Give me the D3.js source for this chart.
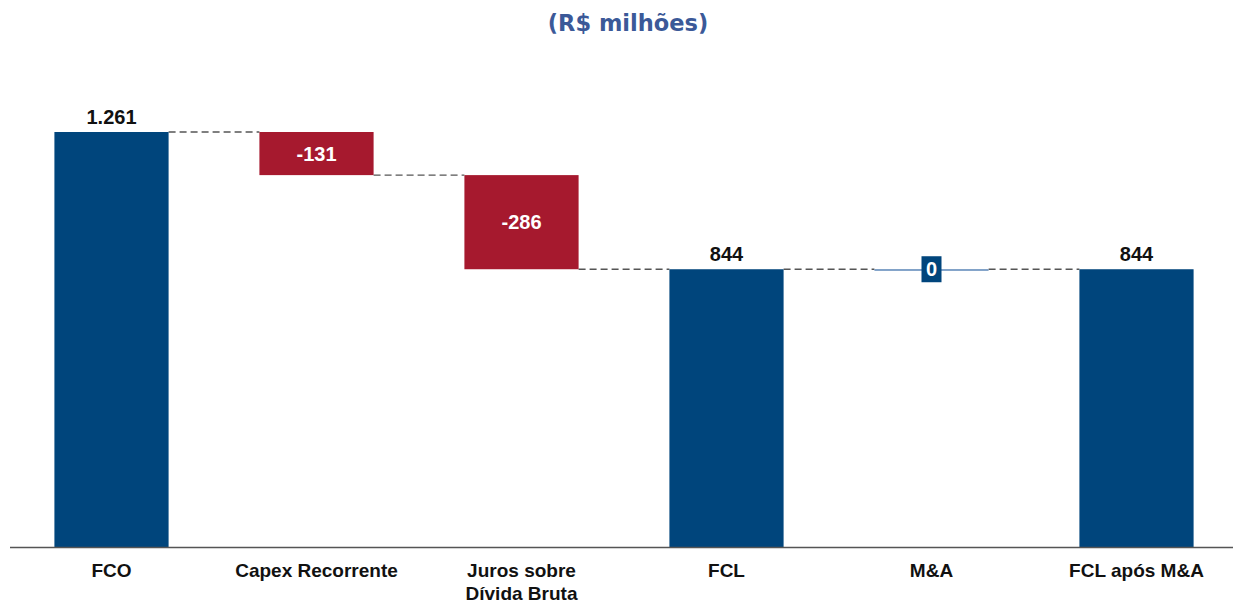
<!DOCTYPE html>
<html>
<head>
<meta charset="utf-8">
<script src="https://cdn.jsdelivr.net/npm/d3@7"></script>
<style>
  body { margin: 0; background: #fff; }
  svg { display: block; }
</style>
</head>
<body>
<div id="chart"></div>
<script>
// data
const categories = ["FCO", "Capex Recorrente", "Juros sobre|Dívida Bruta", "FCL", "M&A", "FCL após M&A"];
const values = [1261, -131, -286, 844, 0, 844];
const kinds = ["total", "delta", "delta", "total", "delta", "total"];
const valueLabels = ["1.261", "-131", "-286", "844", "0", "844"];

const width = 1233, height = 603;
const blue = "#00457c", red = "#a6192e";

const svg = d3.select("#chart").append("svg")
    .attr("width", width)
    .attr("height", height);

// build waterfall steps
let running = 0;
const steps = values.map(function(v, i) {
    let start, end;
    if (kinds[i] == "total") { start = 0; end = v; running = v; }
    else { start = running; end = running + v; running = end; }
    return { cat: categories[i], v: v, kind: kinds[i], start: start, end: end, label: valueLabels[i] };
});

//----------------------------SCALES----------------------------//
const x = d3.scaleBand()
    .domain(categories)
    .range([9, 1239])
    .paddingInner(0.443)
    .paddingOuter(0.2215);

const y = d3.scaleLinear()
    .domain([0, 1261])
    .range([547, 132]);

//-----------------------------TITLE-----------------------------//
svg.append("text")
    .attr("x", 628)
    .attr("y", 31)
    .attr("text-anchor", "middle")
    .style("font-family", "'DejaVu Sans', sans-serif")
    .style("font-weight", "bold")
    .style("font-size", "22.5px")
    .style("fill", "#3b5998")
    .text("(R$ milhões)");

//----------------------------CONNECTORS-------------------------//
svg.append("g").selectAll("line")
    .data(steps.slice(0, -1))
    .enter().append("line")
    .attr("x1", function(d) { return x(d.cat) + x.bandwidth(); })
    .attr("x2", function(d, i) { return x(categories[i + 1]); })
    .attr("y1", function(d) { return y(d.end); })
    .attr("y2", function(d) { return y(d.end); })
    .attr("stroke", "#555")
    .attr("stroke-width", 1.3)
    .attr("stroke-dasharray", "7,4");

//-----------------------------BARS------------------------------//
svg.append("g").selectAll("rect")
    .data(steps)
    .enter().append("rect")
    .attr("x", function(d) { return x(d.cat); })
    .attr("width", x.bandwidth())
    .attr("y", function(d) { return y(Math.max(d.start, d.end)); })
    .attr("height", function(d) { return Math.max(1.5, Math.abs(y(d.start) - y(d.end))); })
    .attr("fill", function(d) {
        if (d.kind == "total") return blue;
        if (d.v == 0) return "#5b86b8";
        return red;
    });

//-----------------------------AXIS------------------------------//
svg.append("line")
    .attr("x1", 10).attr("x2", 1233)
    .attr("y1", y(0) + 0.5).attr("y2", y(0) + 0.5)
    .attr("stroke", "#555")
    .attr("stroke-width", 1.5);

const labelFont = "'Liberation Sans', Arial, sans-serif";

const catLabels = svg.append("g").selectAll("text")
    .data(categories)
    .enter().append("text")
    .attr("x", function(d) { return x(d) + x.bandwidth() / 2; })
    .attr("y", 577)
    .attr("text-anchor", "middle")
    .style("font-family", labelFont)
    .style("font-weight", "bold")
    .style("font-size", "19px")
    .style("fill", "#111");

catLabels.each(function(d) {
    const parts = d.split("|");
    const t = d3.select(this);
    parts.forEach(function(p, i) {
        t.append("tspan")
            .attr("x", x(d) + x.bandwidth() / 2)
            .attr("dy", i == 0 ? 0 : 23)
            .text(p);
    });
});

//---------------------------VALUE LABELS------------------------//
const vl = svg.append("g").selectAll("g")
    .data(steps)
    .enter().append("g");

// background box for zero-value label
vl.filter(function(d) { return d.v == 0; })
    .append("rect")
    .attr("x", function(d) { return x(d.cat) + x.bandwidth() / 2 - 10; })
    .attr("y", function(d) { return y(d.end) - 13; })
    .attr("width", 20)
    .attr("height", 26)
    .attr("fill", blue);

vl.append("text")
    .attr("x", function(d) { return x(d.cat) + x.bandwidth() / 2; })
    .attr("y", function(d) {
        if (d.kind == "total") return y(d.end) - 8;
        return (y(d.start) + y(d.end)) / 2 + 7;
    })
    .attr("text-anchor", "middle")
    .style("font-family", labelFont)
    .style("font-weight", "bold")
    .style("font-size", "20px")
    .style("fill", function(d) { return d.kind == "total" ? "#111" : "#fff"; })
    .text(function(d) { return d.label; });
</script>
</body>
</html>
